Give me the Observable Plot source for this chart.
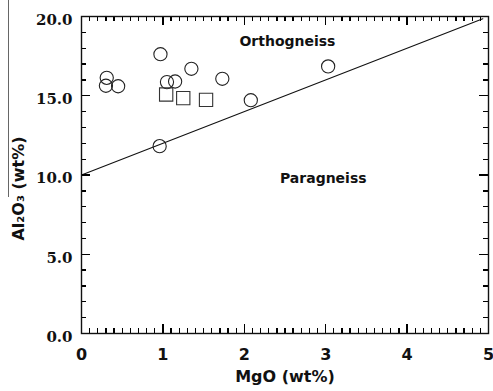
<!DOCTYPE html>
<html>
<head>
<meta charset="utf-8">
<script src="https://cdn.jsdelivr.net/npm/d3@7"></script>
<script src="https://cdn.jsdelivr.net/npm/@observablehq/plot@0.6"></script>
<style>
  html, body { margin: 0; padding: 0; background: #fff; }
  #wrap { position: relative; width: 493px; height: 391px; }
  #edge { position: absolute; left: 8px; top: 0; width: 0; height: 197px; border-left: 1.2px solid #666; }
</style>
</head>
<body>
<div id="wrap"><div id="edge"></div></div>
<script>
// Data
const circleMgO   = [0.31, 0.30, 0.45, 0.97, 1.05, 1.15, 1.35, 1.73, 0.96, 2.08, 3.03];
const circleAl2O3 = [16.13, 15.63, 15.60, 17.62, 15.86, 15.90, 16.70, 16.07, 11.82, 14.72, 16.85];
const squareMgO   = [1.04, 1.25, 1.53];
const squareAl2O3 = [15.08, 14.85, 14.74];
const lineMgO     = [0, 4.93];
const lineAl2O3   = [10, 19.86];
const regionNames = ["Orthogneiss", "Paragneiss"];
const regionMgO   = [2.53, 2.97];
const regionAl2O3 = [18.4, 9.78];
const xMajor = [0, 1, 2, 3, 4, 5];
const xMinor = d3.range(0, 51).map(i => i / 10);
const yMajor = [0, 5, 10, 15, 20];
const yMinor = d3.range(0, 21);
const yTickLabels = ["0.0", "5.0", "10.0", "15.0", "20.0"];
const xTitle = "MgO (wt%)";
const yTitle = "Al\u2082O\u2083 (wt%)";
const yTitleAt = 9.15; // vertical centre of the y title, in Al2O3 units

const circles = circleMgO.map((x, i) => ({x, y: circleAl2O3[i]}));
const squares = squareMgO.map((x, i) => ({x, y: squareAl2O3[i]}));
const line = lineMgO.map((x, i) => ({x, y: lineAl2O3[i]}));
const regions = regionNames.map((t, i) => ({t, x: regionMgO[i], y: regionAl2O3[i]}));

const sans = "DejaVu Sans";
const serif = "DejaVu Serif";
const tk = {stroke: "#000", strokeWidth: 1.3, shapeRendering: "crispEdges"};

function ticks(len, xs, ys) {
  return [
    Plot.ruleX(xs, {...tk, x: d => d, y1: () => 0, y2: () => 0, insetTop: -len}),
    Plot.ruleX(xs, {...tk, x: d => d, y1: () => 20, y2: () => 20, insetBottom: -len}),
    Plot.ruleY(ys, {...tk, y: d => d, x1: () => 0, x2: () => 0, insetRight: -len}),
    Plot.ruleY(ys, {...tk, y: d => d, x1: () => 5, x2: () => 5, insetLeft: -len})
  ];
}

const chart = Plot.plot({
  width: 493,
  height: 391,
  marginLeft: 81,
  marginRight: 5,
  marginTop: 16,
  marginBottom: 58,
  x: {domain: [0, 5], axis: null},
  y: {domain: [0, 20], axis: null},
  marks: [
    Plot.line(line, {x: "x", y: "y", stroke: "#111", strokeWidth: 1.1}),
    Plot.dot(circles, {x: "x", y: "y", r: 6.6, stroke: "#222", strokeWidth: 1.1, fill: "none"}),
    Plot.dot(squares, {x: "x", y: "y", r: 7.5, symbol: "square", stroke: "#333", strokeWidth: 1.1, fill: "none"}),
    ...ticks(5, xMinor, yMinor),
    ...ticks(9, xMajor, yMajor),
    Plot.frame({stroke: "#111", strokeWidth: 1.4}),
    Plot.text(xMajor, {x: d => d, y: () => 0, text: d => String(d), dy: 21, fontFamily: sans, fontWeight: "bold", fontSize: 16, fill: "#111"}),
    Plot.text(yMajor, {y: d => d, x: () => 0, text: (d, i) => yTickLabels[i], textAnchor: "end", dx: -9, dy: 3.5, fontFamily: serif, fontWeight: "bold", fontSize: 15, fill: "#111"}),
    Plot.text(regions, {x: "x", y: "y", text: "t", fontFamily: sans, fontWeight: "bold", fontSize: 14, fill: "#111"}),
    Plot.text([xTitle], {frameAnchor: "bottom", dy: 48, fontFamily: sans, fontWeight: "bold", fontSize: 16, fill: "#111"}),
    Plot.text([yTitle], {x: () => 0, y: () => yTitleAt, rotate: -90, dx: -63, fontFamily: sans, fontWeight: "bold", fontSize: 16, fill: "#111"})
  ]
});
document.getElementById("wrap").appendChild(chart);
</script>
</body>
</html>
